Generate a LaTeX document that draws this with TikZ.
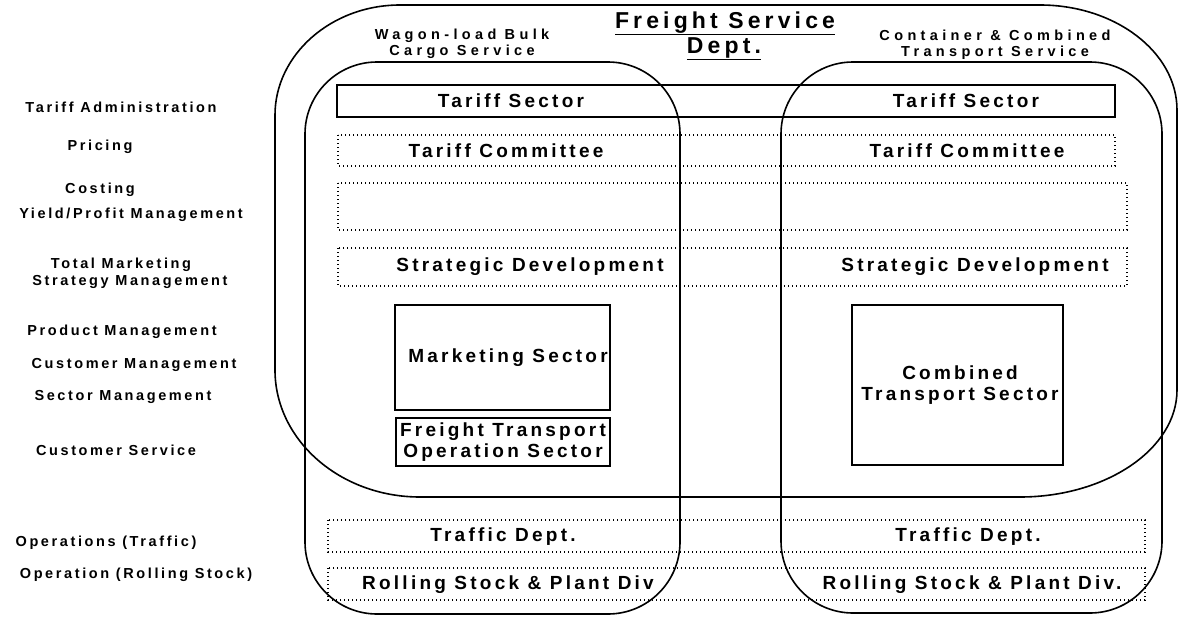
\documentclass[tikz,border=0pt]{standalone}
\usepackage{fontspec}
\setmainfont{Liberation Sans}
\newfontfamily\gapfont{Liberation Sans}[LetterSpace=18]
\newfontfamily\boxfont{Liberation Sans}[LetterSpace=17]
\newfontfamily\widefont{Liberation Sans}[LetterSpace=30]
\tikzset{
    ring/.style={line width=1.6pt},
    solidbox/.style={line width=2pt},
    dotbox/.style={line width=1.2pt, dash pattern=on 1.2pt off 2.8pt},
    lbl/.style={font=\gapfont\bfseries\fontsize{14.5}{16}\selectfont, inner sep=0pt},
    boxtxt/.style={font=\boxfont\bfseries\fontsize{19}{21}\selectfont, inner sep=0pt, align=center},
    head/.style={font=\widefont\bfseries\fontsize{14.5}{16}\selectfont, inner sep=0pt, align=center},
    titletxt/.style={font=\gapfont\bfseries\fontsize{23}{25}\selectfont, inner sep=0pt}
}

\begin{document}
\begin{tikzpicture}[x=1pt,y=-1pt]
    \useasboundingbox (0,0) rectangle (1178,616);

    % Freight Service Dept. outline (elliptic corners)
    \draw[ring] (275,115) -- (275,370)
        .. controls (275,440) and (340,497) .. (420,497)
        -- (1020,497)
        .. controls (1106,497) and (1177,449) .. (1177,390)
        -- (1177,110)
        .. controls (1177,52) and (1115,5) .. (1040,5)
        -- (400,5)
        .. controls (331,5) and (275,55) .. cycle;
    % the two service groups
    \draw[ring, rounded corners=72] (305,62) rectangle (680,614);   % wagon-load
    \draw[ring, rounded corners=72] (781,62) rectangle (1162,613);  % container

    % headings
    \node[titletxt, anchor=base] (title) at (725,28) {\underline{Freight Service}};
    \node[titletxt, anchor=base] (titledept) at (724,53) {\underline{Dept.}};
    \node[head] (wagonhd) at (462,44) {Wagon-load Bulk\\Cargo Service};
    \node[head] (conthd) at (995,45) {Container \& Combined\\Transport Service};

    % rows across both groups
    \draw[solidbox] (337,85) rectangle (1115,117);      % tariff sector
    \draw[dotbox] (338,135) rectangle (1115,166);       % tariff committee
    \draw[dotbox] (338,183) rectangle (1127,230);       % costing (empty)
    \draw[dotbox] (338,248) rectangle (1127,286);       % strategic dev.
    \draw[dotbox] (328,520) rectangle (1145,552);       % traffic
    \draw[dotbox] (328,568) rectangle (1145,600);       % rolling stock

    % sector boxes
    \draw[solidbox] (395,305) rectangle (610,410);
    \draw[solidbox] (396,418) rectangle (610,466);
    \draw[solidbox] (852,305) rectangle (1063,465);

    % box texts
    \node[boxtxt] (tsecL) at (511,101) {Tariff Sector};
    \node[boxtxt] (tsecR) at (966,101) {Tariff Sector};
    \node[boxtxt] (tcomL) at (506,151) {Tariff Committee};
    \node[boxtxt] (tcomR) at (967,151) {Tariff Committee};
    \node[boxtxt] (stratL) at (530,267) {Strategic Development};
    \node[boxtxt] (stratR) at (975,267) {Strategic Development};
    \node[boxtxt] (mkt) at (508,358) {Marketing Sector};
    \node[boxtxt] (fto) at (503,442) {Freight Transport\\Operation Sector};
    \node[boxtxt] (cts) at (960,385) {Combined\\Transport Sector};
    \node[boxtxt] (trafL) at (503,537) {Traffic Dept.};
    \node[boxtxt] (trafR) at (968,537) {Traffic Dept.};
    \node[boxtxt] (rollL) at (508,585) {Rolling Stock \& Plant Div};
    \node[boxtxt] (rollR) at (972,585) {Rolling Stock \& Plant Div.};

    % functions down the left side
    \node[lbl] (fTariff) at (121,107) {Tariff Administration};
    \node[lbl] (fPricing) at (100,147) {Pricing};
    \node[lbl] (fCosting) at (100,190) {Costing};
    \node[lbl] (fYield) at (131,215) {Yield/Profit Management};
    \node[lbl] (fTotal) at (121,265) {Total Marketing};
    \node[lbl] (fStrategy) at (130,282) {Strategy Management};
    \node[lbl] (fProduct) at (122,332) {Product Management};
    \node[lbl] (fCustMgmt) at (134,365) {Customer Management};
    \node[lbl] (fSector) at (123,397) {Sector Management};
    \node[lbl] (fCustSrv) at (116,450) {Customer Service};
    \node[lbl] (fTraffic) at (106,543) {Operations (Traffic)};
    \node[lbl] (fRolling) at (136,575) {Operation (Rolling Stock)};
\end{tikzpicture}
\end{document}
